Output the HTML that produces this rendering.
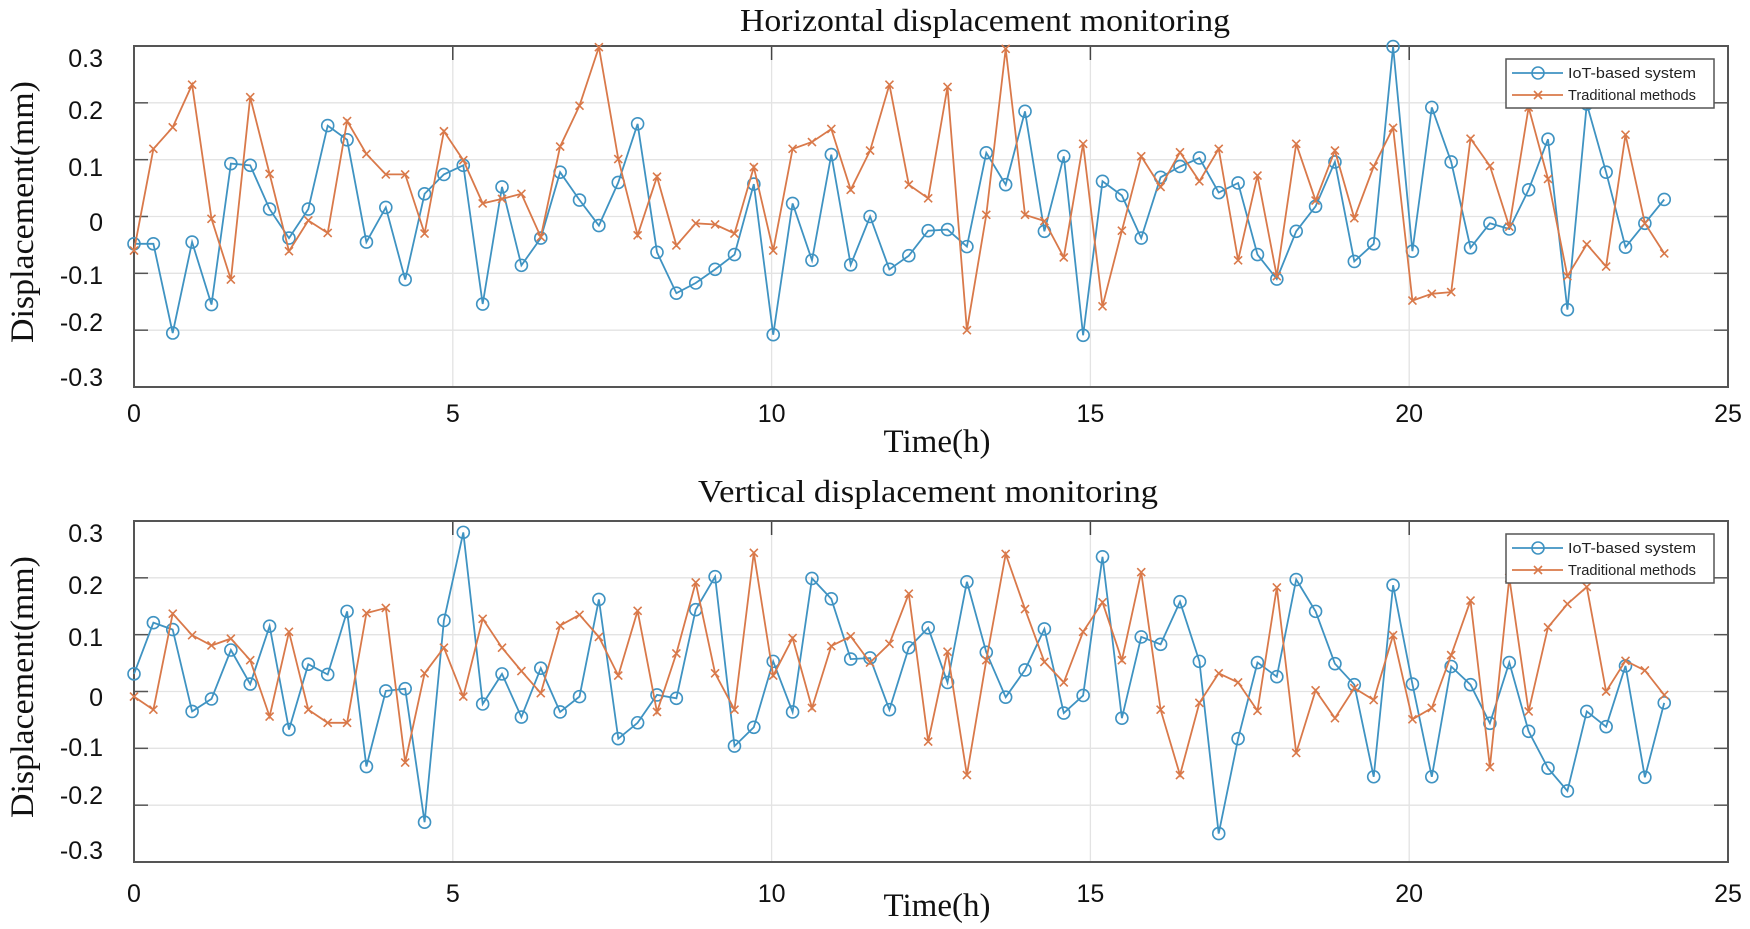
<!DOCTYPE html>
<html><head><meta charset="utf-8"><title>Displacement monitoring</title>
<style>
html,body{margin:0;padding:0;background:#fff;}
svg{display:block;}
.tick{font-family:"Liberation Sans",sans-serif;font-size:25px;fill:#111;}
.serif{font-family:"Liberation Serif",serif;fill:#111;}
.leg{font-family:"Liberation Sans",sans-serif;font-size:15px;fill:#222;}
</style></head>
<body>
<svg id="chart" width="1750" height="929" viewBox="0 0 1750 929" xmlns="http://www.w3.org/2000/svg"></svg>
<script>
// ---- data ----
const hBlue = [-0.048,-0.048,-0.205,-0.045,-0.155,0.093,0.09,0.013,-0.038,0.013,0.16,0.135,-0.045,0.016,-0.111,0.04,0.074,0.09,-0.154,0.052,-0.086,-0.038,0.078,0.029,-0.016,0.06,0.163,-0.063,-0.135,-0.117,-0.093,-0.067,0.057,-0.208,0.023,-0.077,0.109,-0.085,0.0,-0.093,-0.069,-0.025,-0.023,-0.053,0.112,0.056,0.185,-0.026,0.106,-0.209,0.062,0.037,-0.038,0.069,0.088,0.103,0.042,0.059,-0.067,-0.11,-0.026,0.018,0.096,-0.079,-0.048,0.299,-0.061,0.192,0.096,-0.055,-0.012,-0.022,0.047,0.136,-0.164,0.198,0.078,-0.054,-0.012,0.03];
const hOrange = [-0.06,0.119,0.157,0.232,-0.004,-0.111,0.21,0.075,-0.061,-0.007,-0.029,0.168,0.11,0.074,0.074,-0.03,0.15,0.099,0.023,0.031,0.04,-0.036,0.123,0.195,0.298,0.101,-0.033,0.07,-0.051,-0.012,-0.014,-0.03,0.087,-0.06,0.119,0.131,0.154,0.047,0.116,0.232,0.056,0.032,0.228,-0.2,0.003,0.295,0.003,-0.008,-0.072,0.128,-0.158,-0.025,0.106,0.052,0.113,0.062,0.119,-0.077,0.072,-0.105,0.128,0.028,0.116,-0.003,0.088,0.156,-0.148,-0.136,-0.133,0.137,0.089,-0.018,0.192,0.066,-0.105,-0.049,-0.088,0.144,-0.012,-0.065];
const vBlue = [0.031,0.121,0.109,-0.035,-0.013,0.073,0.013,0.115,-0.067,0.048,0.03,0.141,-0.132,0.001,0.005,-0.23,0.125,0.28,-0.022,0.031,-0.045,0.041,-0.036,-0.009,0.162,-0.083,-0.055,-0.006,-0.012,0.144,0.202,-0.096,-0.063,0.053,-0.036,0.199,0.163,0.057,0.059,-0.032,0.077,0.112,0.016,0.193,0.069,-0.01,0.038,0.11,-0.038,-0.007,0.237,-0.047,0.096,0.083,0.158,0.053,-0.25,-0.083,0.051,0.026,0.197,0.141,0.049,0.012,-0.15,0.187,0.013,-0.15,0.044,0.012,-0.056,0.051,-0.07,-0.135,-0.175,-0.035,-0.062,0.045,-0.151,-0.02];
const vOrange = [-0.009,-0.032,0.137,0.099,0.081,0.093,0.055,-0.044,0.105,-0.032,-0.055,-0.055,0.138,0.147,-0.125,0.032,0.077,-0.009,0.128,0.077,0.036,-0.003,0.116,0.135,0.096,0.028,0.142,-0.036,0.067,0.192,0.032,-0.032,0.244,0.028,0.094,-0.029,0.08,0.097,0.051,0.084,0.172,-0.088,0.07,-0.147,0.055,0.242,0.145,0.052,0.016,0.105,0.157,0.055,0.21,-0.032,-0.147,-0.02,0.032,0.016,-0.034,0.183,-0.108,0.002,-0.047,0.006,-0.015,0.099,-0.049,-0.029,0.064,0.16,-0.133,0.2,-0.035,0.113,0.154,0.184,0.0,0.054,0.037,-0.006];
const xTickLabels = ["0","5","10","15","20","25"];
const yTickValues = [0.3,0.2,0.1,0,-0.1,-0.2,-0.3];
const yTickLabels = ["0.3","0.2","0.1","0","-0.1","-0.2","-0.3"];
const seriesNames = ["IoT-based system","Traditional methods"];

const NS="http://www.w3.org/2000/svg";
const svg=document.getElementById('chart');
function mk(tag,attrs,parent){const e=document.createElementNS(NS,tag);for(const k in attrs)e.setAttribute(k,attrs[k]);(parent||svg).appendChild(e);return e;}
const BLUE="#3f93c2", ORANGE="#d9794a";

function panel(opt){
  const g=mk('g',{});
  
  
  const L=134,R=1728,T=opt.top,B=opt.bottom;
  const xs=h=>L+(h/25)*(R-L);
  const ys=v=>T+(0.3-v)/0.6*(B-T);
  // grid
  for(let k=1;k<5;k++){const l=mk('line',{x1:xs(k*5),x2:xs(k*5),y1:T,y2:B,stroke:'#e3e3e3','stroke-width':1.3},g);
    }
  yTickValues.forEach(v=>{if(Math.abs(v)<0.29){const l=mk('line',{x1:L,x2:R,y1:ys(v),y2:ys(v),stroke:'#e3e3e3','stroke-width':1.3},g);
    
    mk('line',{x1:L,x2:L+14,y1:ys(v),y2:ys(v),stroke:'#555','stroke-width':1.5},g);
    mk('line',{x1:R-14,x2:R,y1:ys(v),y2:ys(v),stroke:'#555','stroke-width':1.5},g);}});
  for(let k=1;k<5;k++){mk('line',{x1:xs(k*5),x2:xs(k*5),y1:T,y2:T+14,stroke:'#444','stroke-width':1.5},g);}
  const fr=mk('rect',{x:L,y:T,width:R-L,height:B-T,fill:'none',stroke:'#555','stroke-width':2},g);
  
  // tick labels
  yTickLabels.forEach((s,i)=>{const t=mk('text',{x:103,y:opt.labelY[i]+9,'text-anchor':'end',class:'tick'},g);t.textContent=s;
    });
  xTickLabels.forEach((s,i)=>{const t=mk('text',{x:xs(i*5),y:opt.xLabY,'text-anchor':'middle',class:'tick'},g);t.textContent=s;
    });
  // series
  const n=opt.blue.length;
  const hx=i=>24*i/(n-1);
  [[opt.blue,BLUE,'iot'],[opt.orange,ORANGE,'traditional']].forEach(([arr,col,nm])=>{
    const pts=arr.map((v,i)=>xs(hx(i)).toFixed(1)+','+ys(v).toFixed(1)).join(' ');
    const pl=mk('polyline',{points:pts,fill:'none',stroke:col,'stroke-width':1.8},g);
    
    arr.forEach((v,i)=>{const x=xs(hx(i)),y=ys(v);
      if(nm==='iot'){const c=mk('circle',{cx:x,cy:y,r:6,fill:'none',stroke:col,'stroke-width':1.6},g);
        }
      else{const p=mk('path',{d:`M${x-4},${y-4}L${x+4},${y+4}M${x-4},${y+4}L${x+4},${y-4}`,stroke:col,'stroke-width':1.6},g);
        }
    });
  });
  // legend
  const lg=mk('g',{},g);
  const ly=opt.legTop;
  mk('rect',{x:1506,y:ly,width:208,height:49,fill:'#fff',stroke:'#555','stroke-width':1.5},lg);
  [[BLUE,0],[ORANGE,1]].forEach(([col,k])=>{
    const yy=ly+14+k*22;
    mk('line',{x1:1512,x2:1563,y1:yy,y2:yy,stroke:col,'stroke-width':1.8},lg);
    if(k===0)mk('circle',{cx:1538,cy:yy,r:6,fill:'none',stroke:col,'stroke-width':1.6},lg);
    else mk('path',{d:`M1534,${yy-4}L1542,${yy+4}M1534,${yy+4}L1542,${yy-4}`,stroke:col,'stroke-width':1.6},lg);
    const t=mk('text',{x:1568,y:yy+5,class:'leg',textLength:128,lengthAdjust:'spacingAndGlyphs'},lg);t.textContent=seriesNames[k];
    
  });
  // titles
  const tt=mk('text',{x:opt.titleX,y:opt.titleY,'text-anchor':'middle',class:'serif','font-size':32,textLength:opt.titleW,lengthAdjust:'spacingAndGlyphs'},g);
  tt.textContent=opt.title;
  const xt=mk('text',{x:937,y:opt.xTitleY,'text-anchor':'middle',class:'serif','font-size':33},g);
  xt.textContent='Time(h)';
  const yt=mk('text',{x:0,y:0,'text-anchor':'middle',class:'serif','font-size':33,textLength:262,lengthAdjust:'spacingAndGlyphs',transform:`translate(33,${opt.yTitleC}) rotate(-90)`},g);
  yt.textContent='Displacement(mm)';
}
panel({name:'horizontal-panel',top:46,bottom:387,blue:hBlue,orange:hOrange,labelY:[58,110,167,222,275,322,377],xLabY:422,
  legTop:59,title:'Horizontal displacement monitoring',titleX:985,titleY:31,titleW:490,xTitleY:452,yTitleC:212});
panel({name:'vertical-panel',top:521,bottom:862,blue:vBlue,orange:vOrange,labelY:[533,585,637,697,747,795,850],xLabY:902,
  legTop:534,title:'Vertical displacement monitoring',titleX:928,titleY:502,titleW:460,xTitleY:916,yTitleC:687});
</script>
</body></html>
